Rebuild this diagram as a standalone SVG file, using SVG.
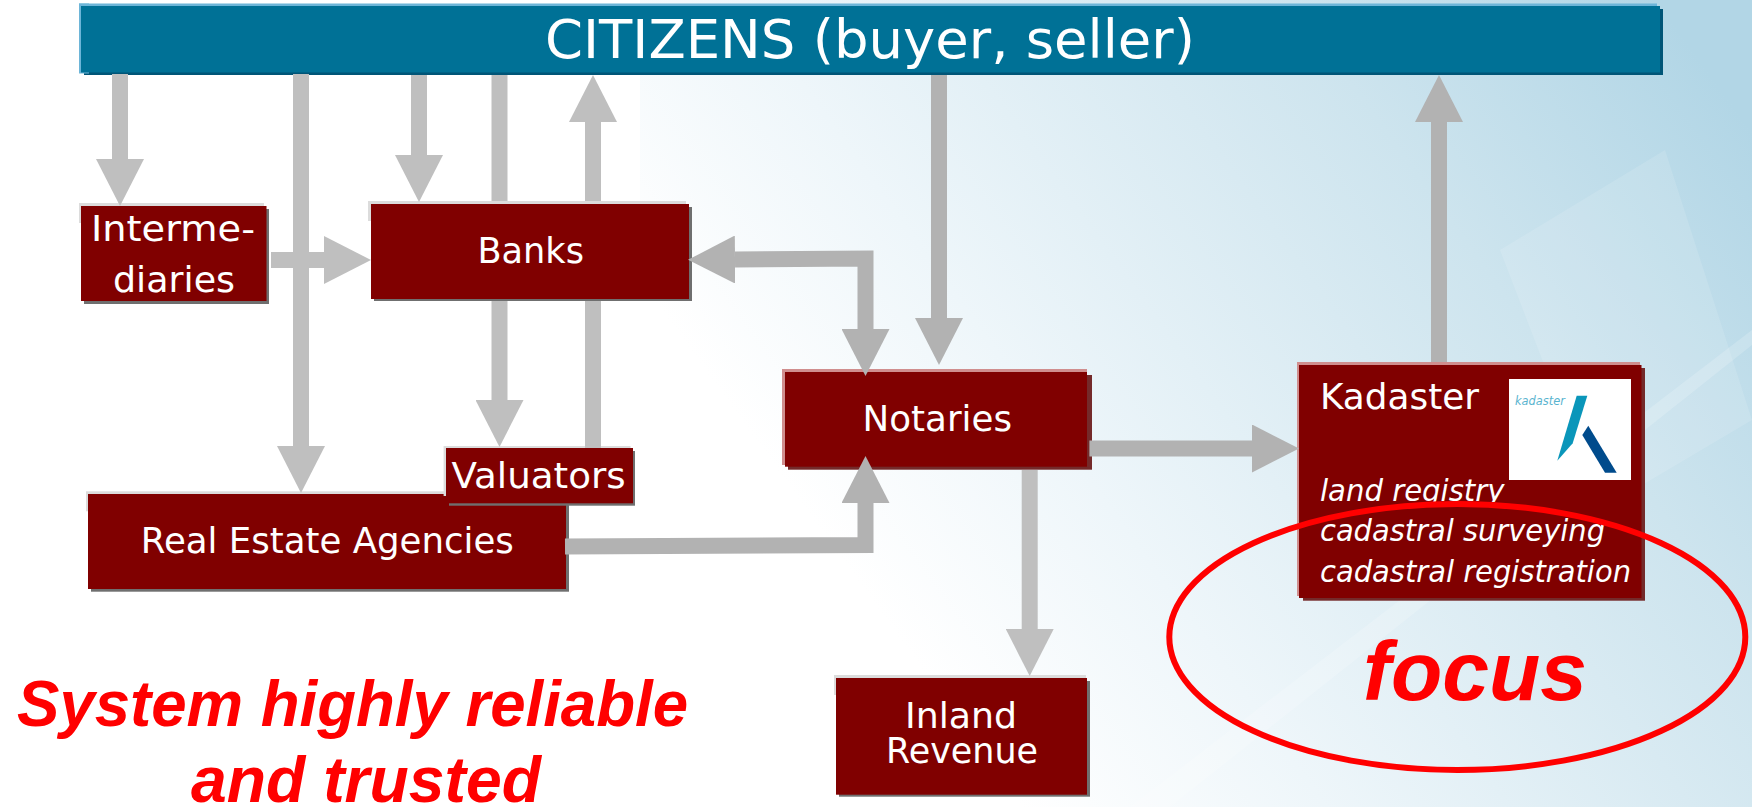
<svg xmlns="http://www.w3.org/2000/svg" width="1752" height="807" viewBox="0 0 1752 807">
<defs>
<linearGradient id="bg" gradientUnits="userSpaceOnUse" x1="900" y1="640" x2="1700" y2="60">
<stop offset="0" stop-color="#ffffff"/>
<stop offset="0.25" stop-color="#eef6fa"/>
<stop offset="0.7" stop-color="#cde4ee"/>
<stop offset="1" stop-color="#b2d6e6"/>
</linearGradient>
<marker id="hd" markerUnits="userSpaceOnUse" markerWidth="47" markerHeight="48" viewBox="0 0 47 48" refX="0" refY="24" orient="auto-start-reverse"><path d="M0 0L47 24L0 48Z" fill="#b2b2b2"/></marker>
<marker id="hl" markerUnits="userSpaceOnUse" markerWidth="47" markerHeight="48" viewBox="0 0 47 48" refX="0" refY="24" orient="auto-start-reverse"><path d="M0 0L47 24L0 48Z" fill="#bfbfbf"/></marker>
<clipPath id="cut"><rect x="1300" y="470" width="300" height="32"/></clipPath>
</defs>
<style>
.t{font-family:"DejaVu Sans",Verdana,sans-serif;fill:#fff;font-size:36px}
.i{font-size:30px;font-style:italic}
.r{font-family:"Liberation Sans",Arial,sans-serif;font-weight:bold;font-style:italic;fill:#f00;font-size:64px}
.box{fill:#800000}
.sh{fill:#6f6f6f}
.hi{fill:#dcdcdc}
.c{fill:none;stroke-width:16;stroke:#b2b2b2;marker-end:url(#hd)}
.l{stroke:#bfbfbf;marker-end:url(#hl)}
</style>
<rect width="1752" height="807" fill="#fff"/>
<rect x="640" y="0" width="1112" height="807" fill="url(#bg)"/>
<g id="backdrop" fill="#ffffff">
<path d="M1130 807L1752 330V345L1170 807Z" opacity=".18"/>
<path d="M1240 300L1752 40V0L1180 300Z" opacity=".0"/>
<path d="M1500 250L1665 150L1752 420L1600 510Z" opacity=".12"/>
</g>
<g id="citizens">
<rect x="84" y="9" width="1579" height="66" fill="#005577"/>
<rect x="79" y="3.500" width="1578" height="20" fill="#6db5d8"/>
<rect x="79" y="3.500" width="10" height="70" fill="#6db5d8"/>
<rect x="81" y="6" width="1579" height="66.500" fill="#007196"/>
<text class="t" x="545" y="57.700" font-size="53" style="font-size:53px" textLength="650" lengthAdjust="spacingAndGlyphs">CITIZENS (buyer, seller)</text>
</g>
<g id="intermediaries">
<rect class="hi" x="79" y="203" width="185" height="20"/>
<rect class="sh" x="84" y="209" width="185" height="95"/>
<rect class="box" x="81" y="206" width="185.500" height="95"/>
<text class="t" x="91" y="240.700" textLength="164" lengthAdjust="spacingAndGlyphs">Interme-</text>
<text class="t" x="113" y="292" textLength="122" lengthAdjust="spacingAndGlyphs">diaries</text>
</g>
<g id="banks">
<rect class="hi" x="368" y="201" width="318" height="20"/>
<rect class="sh" x="374" y="207" width="318" height="94"/>
<rect class="box" x="371" y="204" width="318" height="95"/>
<text class="t" x="477.500" y="263.300" textLength="106.500" lengthAdjust="spacingAndGlyphs">Banks</text>
</g>
<g id="real-estate">
<rect class="hi" x="86" y="491.300" width="478" height="20"/>
<rect class="sh" x="91" y="497" width="478" height="94.700"/>
<rect class="box" x="88" y="494" width="478" height="95"/>
<text class="t" x="140.800" y="553" textLength="373" lengthAdjust="spacingAndGlyphs">Real Estate Agencies</text>
</g>
<g id="valuators">
<rect class="hi" x="443.600" y="446" width="187" height="50"/>
<rect class="sh" x="449" y="451" width="186" height="54.700"/>
<rect class="box" x="446" y="448" width="187" height="55.300"/>
<text class="t" x="451.400" y="488" textLength="174.300" lengthAdjust="spacingAndGlyphs">Valuators</text>
</g>
<g id="notaries">
<rect fill="#d08e8e" x="782" y="369" width="305" height="20"/>
<rect fill="#d08e8e" x="782" y="369" width="5" height="96"/>
<rect fill="#742a2a" x="788" y="375" width="304" height="94.700"/>
<rect class="box" x="785" y="372" width="302" height="94.700"/>
<text class="t" x="862.600" y="431.300" textLength="149.400" lengthAdjust="spacingAndGlyphs">Notaries</text>
</g>
<g id="inland-revenue">
<rect class="hi" x="834" y="675" width="252" height="20"/>
<rect class="sh" x="839" y="681" width="251" height="115.700"/>
<rect class="box" x="836" y="678" width="251" height="116.700"/>
<text class="t" x="905" y="728.300" textLength="112" lengthAdjust="spacingAndGlyphs">Inland</text>
<text class="t" x="886" y="763.300" textLength="152" lengthAdjust="spacingAndGlyphs">Revenue</text>
</g>
<g id="kadaster">
<rect fill="#d08e8e" x="1297" y="362" width="343" height="20"/>
<rect fill="#d08e8e" x="1297" y="362" width="5" height="234"/>
<rect fill="#742a2a" x="1303" y="368" width="342" height="232.700"/>
<rect class="box" x="1299" y="365" width="342.500" height="233"/>
<text class="t" x="1320" y="409" textLength="159" lengthAdjust="spacingAndGlyphs">Kadaster</text>
<rect x="1509" y="379" width="122" height="101" fill="#fff"/>
<text x="1515" y="405" font-family="DejaVu Sans,sans-serif" font-style="italic" font-size="13" fill="#5ab4cf" textLength="50" lengthAdjust="spacingAndGlyphs">kadaster</text>
<path d="M1576.700 395.700H1587.300L1572.700 443.300L1557.300 460.700Z" fill="#0a96ba"/>
<path d="M1588.300 425.700L1616.700 472.700H1605L1582.300 435Z" fill="#004b8c"/>
<text class="t i" x="1320" y="500.700" clip-path="url(#cut)" textLength="184.500" lengthAdjust="spacingAndGlyphs">land registry</text>
<text class="t i" x="1320" y="541.300" textLength="285" lengthAdjust="spacingAndGlyphs">cadastral surveying</text>
<text class="t i" x="1320" y="581.700" textLength="311" lengthAdjust="spacingAndGlyphs">cadastral registration</text>
</g>
<g id="connectors">
<path class="c l" d="M120 74V159"/>
<path class="c l" d="M301 74V446"/>
<path class="c l" d="M419 75V155"/>
<path class="c l" d="M499.500 75V201M499.500 301V400"/>
<path class="c l" d="M593 448V301M593 201V122"/>
<path class="c l" d="M271 260H324"/>
<path class="c" d="M735 259.500L865.500 258.500V329" marker-start="url(#hd)" style="marker-start:url(#hd)"/>
<path class="c" d="M939 75V318"/>
<path class="c" d="M1439 362V122"/>
<path class="c" d="M1089.400 448.500H1252"/>
<path class="c l" d="M1029.700 470V629"/>
<path class="c" d="M565 546.500L865.500 545V503"/>
</g>
<ellipse id="focus-ring" cx="1457.300" cy="637" rx="288" ry="133" fill="none" stroke="#f00" stroke-width="6"/>
<text id="focus" class="r" x="1363" y="700" style="font-size:84px">focus</text>
<text id="note-1" class="r" x="17" y="726.300" textLength="671" lengthAdjust="spacingAndGlyphs">System highly reliable</text>
<text id="note-2" class="r" x="191" y="802.300" textLength="350" lengthAdjust="spacingAndGlyphs">and trusted</text>
</svg>
